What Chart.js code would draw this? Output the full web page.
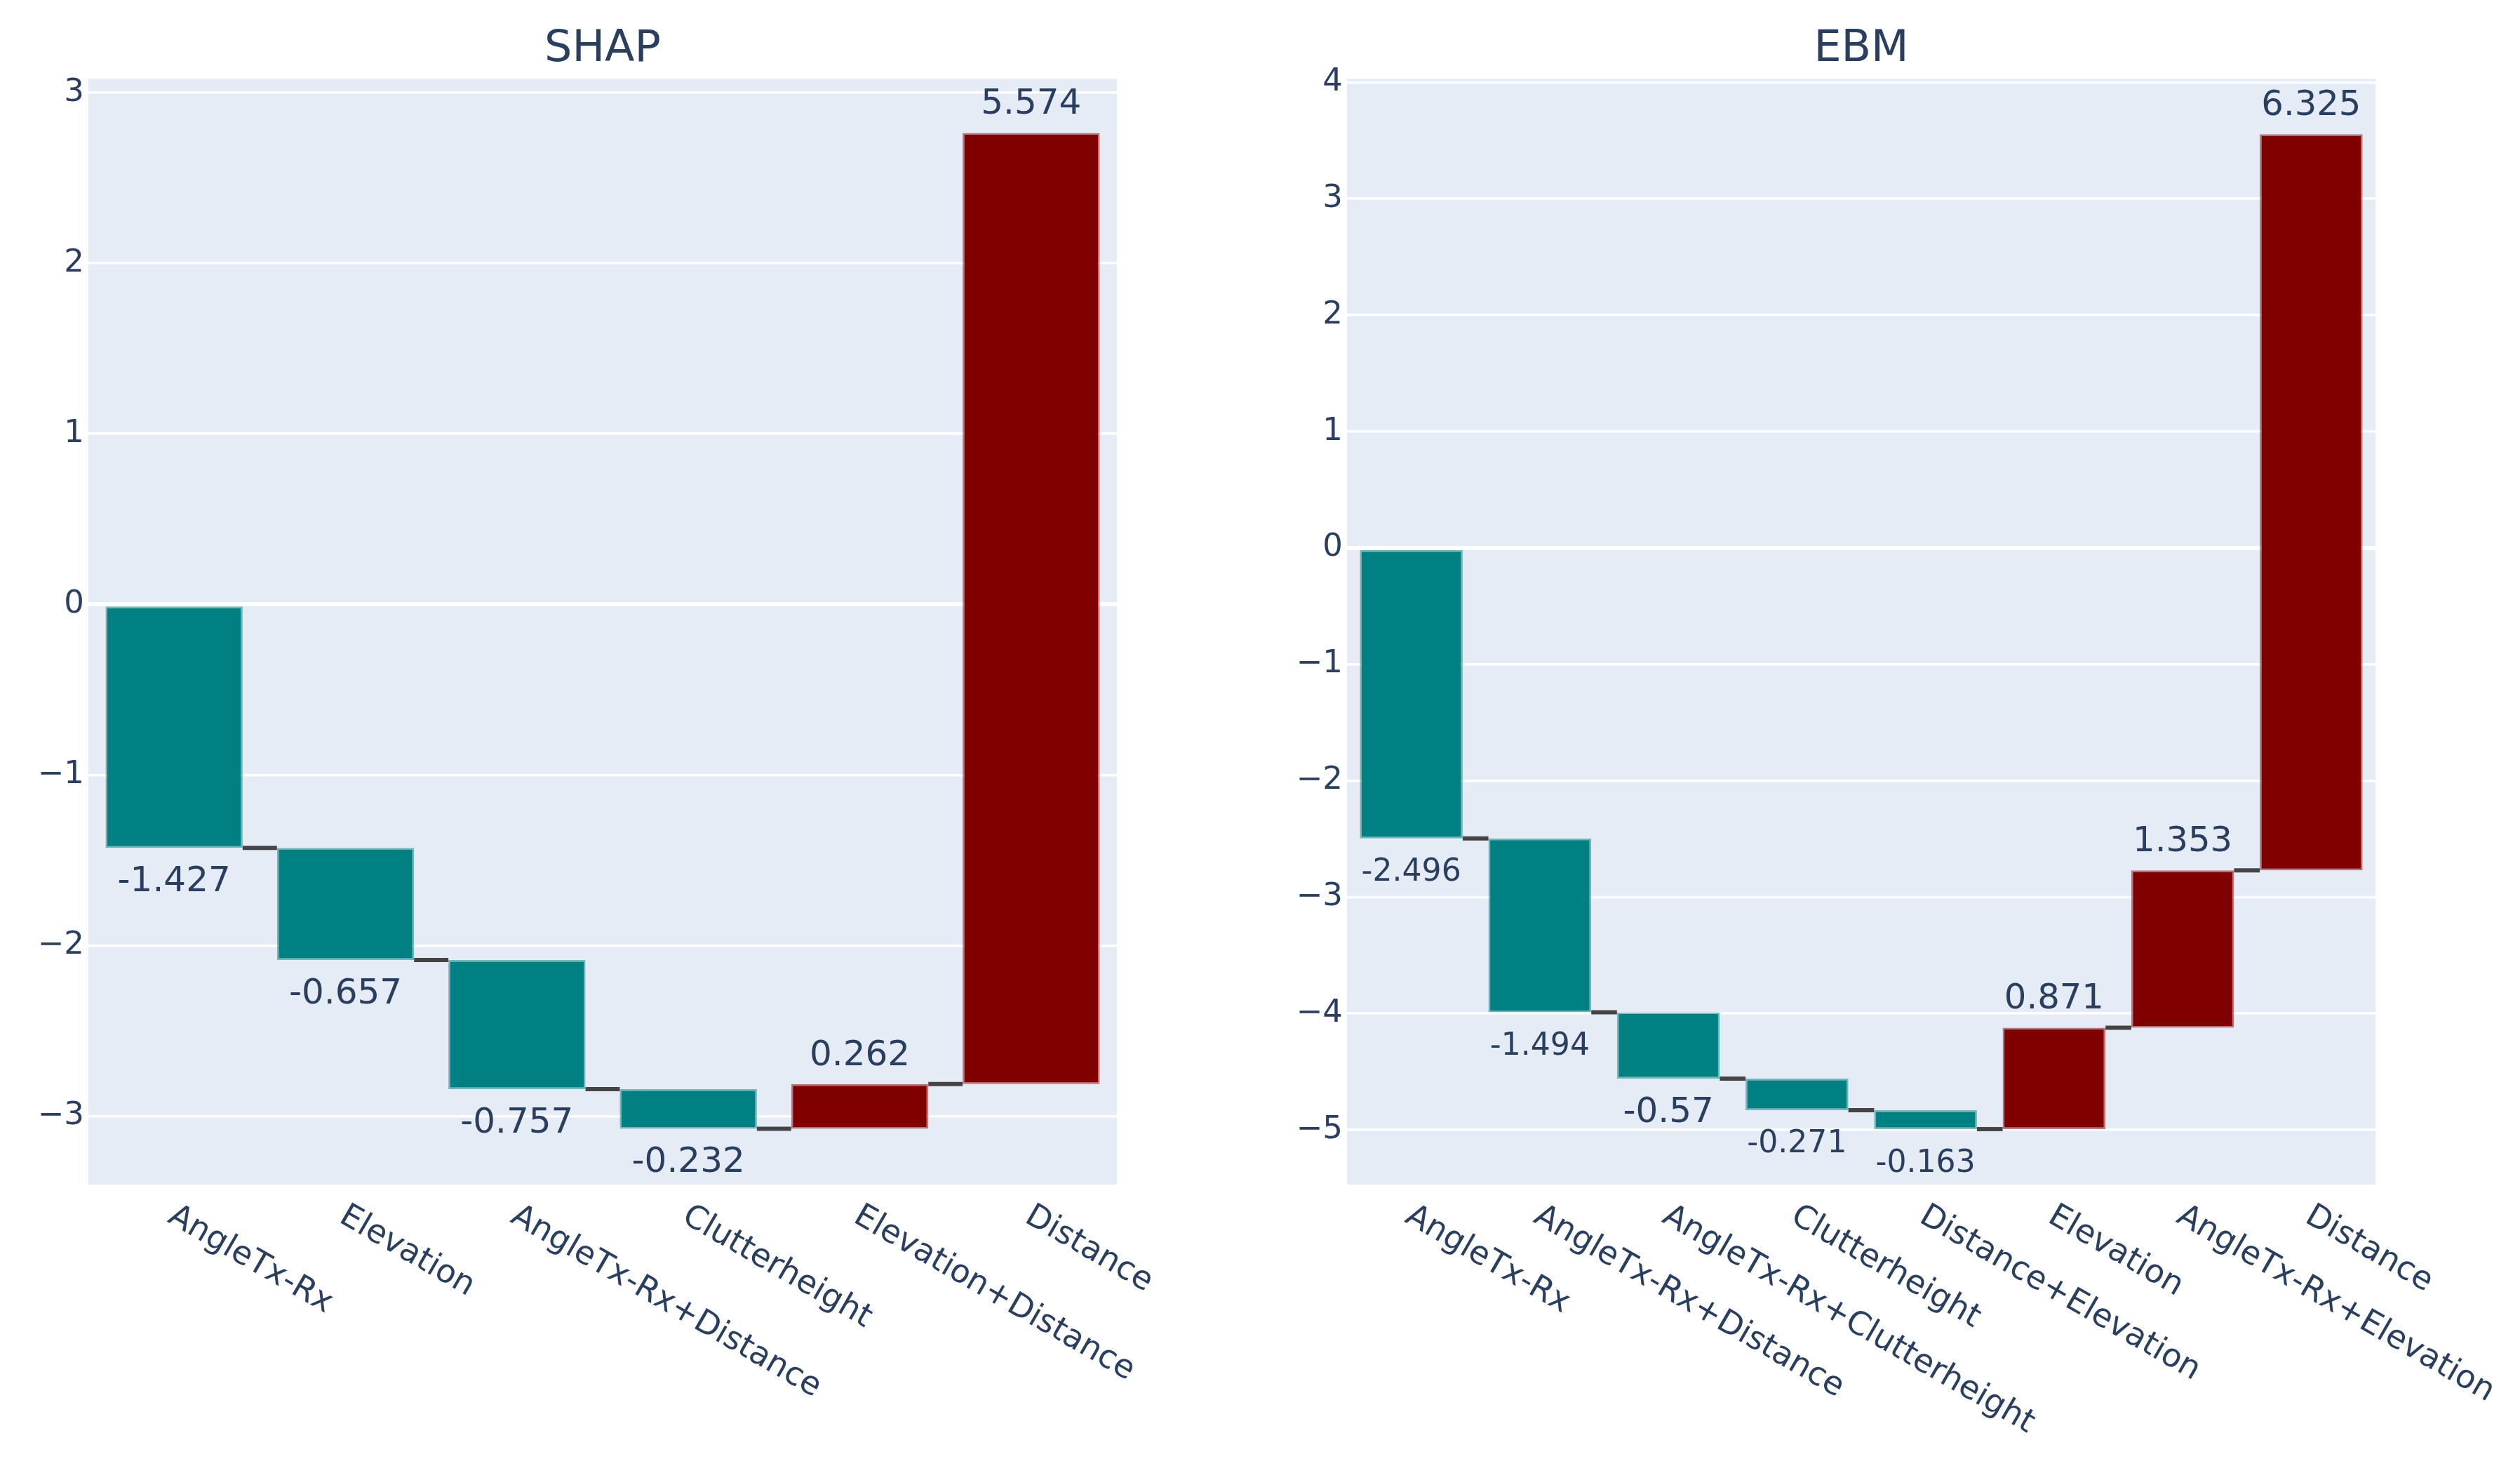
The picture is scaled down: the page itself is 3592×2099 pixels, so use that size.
<!DOCTYPE html>
<html>
<head>
<meta charset="utf-8">
<title>SHAP vs EBM waterfall</title>
<script src="https://cdn.jsdelivr.net/npm/chart.js@4.4.0/dist/chart.umd.min.js"></script>
<style>
  html, body { margin: 0; padding: 0; background: #ffffff; }
  body { width: 3592px; height: 2099px; position: relative; overflow: hidden; }
  canvas { position: absolute; top: 0; }
  #shapChart { left: 0; }
  #ebmChart { left: 1800px; }
</style>
</head>
<body>
<canvas id="shapChart" width="1800" height="2099"></canvas>
<canvas id="ebmChart" width="1792" height="2099"></canvas>
<script>
// SHAP contributions
const shapLabels = ['AngleTx-Rx', 'Elevation', 'AngleTx-Rx+Distance', 'Clutterheight', 'Elevation+Distance', 'Distance'];
const shapValues = [-1.427, -0.657, -0.757, -0.232, 0.262, 5.574];
const shapRange = [-3.40, 3.08];

// EBM contributions
const ebmLabels = ['AngleTx-Rx', 'AngleTx-Rx+Distance', 'AngleTx-Rx+Clutterheight', 'Clutterheight',
  'Distance+Elevation', 'Elevation', 'AngleTx-Rx+Elevation', 'Distance'];
const ebmValues = [-2.496, -1.494, -0.57, -0.271, -0.163, 0.871, 1.353, 6.325];
const ebmRange = [-5.47, 4.03];

const TEXT = '#2a3f5f';
const FONT = '"DejaVu Sans", Verdana, Arial, sans-serif';
const UP = '#800000';
const DOWN = '#008080';

// connectors, value labels and slanted category labels
const waterfallExtras = {
  id: 'waterfallExtras',
  afterDatasetsDraw(chart) {
    const ctx = chart.ctx;
    const ds = chart.data.datasets[0];
    const meta = chart.getDatasetMeta(0);
    const yScale = chart.scales.y;

    ctx.save();
    ctx.strokeStyle = '#444444';
    ctx.lineWidth = 6;
    for (let i = 0; i < meta.data.length - 1; i++) {
      const a = meta.data[i], b = meta.data[i + 1];
      const py = yScale.getPixelForValue(ds.data[i][1]);
      ctx.beginPath();
      ctx.moveTo(a.x + a.width / 2, py);
      ctx.lineTo(b.x - b.width / 2, py);
      ctx.stroke();
    }

    ctx.fillStyle = TEXT;
    ctx.textAlign = 'center';
    ctx.textBaseline = 'middle';
    meta.data.forEach((bar, i) => {
      const v = ds.values[i];
      const txt = String(v);
      let size = 50;
      ctx.font = size + 'px ' + FONT;
      const w = ctx.measureText(txt).width;
      const room = bar.width * 0.97;
      if (w > room) size = size * room / w;
      ctx.font = size + 'px ' + FONT;
      const top = Math.min(bar.y, bar.base);
      const bottom = Math.max(bar.y, bar.base);
      if (v >= 0) ctx.fillText(txt, bar.x, top - 40);
      else ctx.fillText(txt, bar.x, bottom + 49);
    });
    ctx.restore();
  },
  afterDraw(chart) {
    const ctx = chart.ctx;
    const xScale = chart.scales.x;
    ctx.save();
    ctx.fillStyle = TEXT;
    ctx.font = '46px ' + FONT;
    ctx.textAlign = 'left';
    ctx.textBaseline = 'middle';
    chart.data.labels.forEach((lab, i) => {
      const px = xScale.getPixelForValue(i);
      ctx.save();
      ctx.translate(px - 5, chart.chartArea.bottom + 42);
      ctx.rotate(Math.PI / 6);
      ctx.fillText(lab, 0, 0);
      ctx.restore();
    });
    ctx.restore();
  }
};

function makeWaterfall(id, title, labels, values, range, axisWidth, rightPad) {
  const spans = [];
  let run = 0;
  values.forEach(v => {
    spans.push([run, run + v]);
    run += v;
  });

  const config = {
    type: 'bar',
    data: {
      labels: labels,
      datasets: [{
        data: spans,
        values: values,
        backgroundColor: values.map(v => v >= 0 ? UP : DOWN),
        borderColor: values.map(v => v >= 0 ? 'rgba(128,0,0,0.5)' : 'rgba(0,128,128,0.5)'),
        borderWidth: 2.5,
        borderSkipped: false,
        barPercentage: 0.8,
        categoryPercentage: 1.0
      }]
    },
    options: {
      responsive: false,
      animation: false,
      devicePixelRatio: 1,
      layout: { padding: { left: 0, right: rightPad, top: 0, bottom: 0 } },
      plugins: {
        legend: { display: false },
        tooltip: { enabled: false },
        title: {
          display: true,
          text: title,
          color: TEXT,
          fullSize: false,
          font: { family: FONT, size: 62, weight: 'normal', lineHeight: 1.2 },
          padding: { top: 34, bottom: 4 }
        }
      },
      scales: {
        x: {
          grid: { display: false },
          border: { display: false },
          ticks: { display: false },
          afterFit: s => { s.height = 411; }
        },
        y: {
          min: range[0],
          max: range[1],
          grid: {
            color: '#ffffff',
            drawTicks: false,
            lineWidth: c => c.tick && c.tick.value === 0 ? 6 : 3.5
          },
          border: { display: false },
          ticks: {
            stepSize: 1,
            includeBounds: false,
            padding: 6,
            color: TEXT,
            font: { family: FONT, size: 45 },
            callback: v => v < 0 ? '\u2212' + Math.abs(v) : String(v)
          },
          afterFit: s => { s.width = axisWidth; }
        }
      }
    },
    plugins: [
      {
        id: 'plotBg',
        beforeDraw(chart) {
          const a = chart.chartArea;
          chart.ctx.save();
          chart.ctx.fillStyle = '#e5ecf6';
          chart.ctx.fillRect(a.left, a.top, a.right - a.left, a.bottom - a.top);
          chart.ctx.restore();
        }
      },
      waterfallExtras
    ]
  };

  const ctx = document.getElementById(id).getContext('2d');
  return new Chart(ctx, config);
}

document.addEventListener('DOMContentLoaded', () => {
  makeWaterfall('shapChart', 'SHAP', shapLabels, shapValues, shapRange, 126, 208);
  makeWaterfall('ebmChart', 'EBM', ebmLabels, ebmValues, ebmRange, 120, 206);
});
</script>
</body>
</html>
